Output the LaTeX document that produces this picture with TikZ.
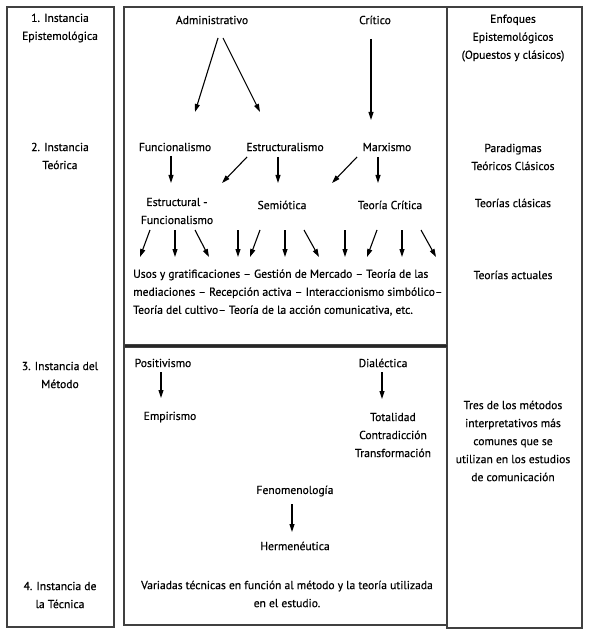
\documentclass[tikz,border=0pt]{standalone}
\usepackage{fontspec}
\setmainfont{PT Sans}[FakeBold=0.5]
\usetikzlibrary{arrows.meta}
\begin{document}
\begin{tikzpicture}[x=1pt,y=-1pt,
  txt/.style={inner sep=0pt,align=center,font=\fontsize{11.6}{18}\selectfont},
  arr/.style={line width=1.1pt,-{Triangle[length=8pt,width=5pt]}},
  frame/.style={draw=black!75,line width=1.1pt}]
\useasboundingbox (0,0) rectangle (589,636);
% frames
\draw[frame] (7,7) rectangle (114,627);
\draw[frame] (124,7) rectangle (447,345);
\draw[frame] (124,347) rectangle (447,625);
\draw[frame] (447,7) rectangle (582,628);
\draw[draw=black!85,line width=2pt] (125,345.5) -- (447,345.5);
% left column
\node[txt] (l1) at (60,28) {1. Instancia\\Epistemológica};
\node[txt] (l2) at (60,156) {2. Instancia\\Teórica};
\node[txt] (l3) at (60,375) {3. Instancia del\\Método};
\node[txt] (l4) at (60,595) {4. Instancia de\\la Técnica};
% right column
\node[txt] (r1) at (513,38) {Enfoques\\Epistemológicos\\(Opuestos y clásicos)};
\node[txt] (r2) at (513,157) {Paradigmas\\Teóricos Clásicos};
\node[txt] (r3) at (513,203) {Teorías clásicas};
\node[txt] (r4) at (513,275) {Teorías actuales};
\node[txt] (r5) at (513,441) {Tres de los métodos\\interpretativos más\\comunes que se\\utilizan en los estudios\\de comunicación};
% middle upper
\node[txt] (adm) at (212,20) {Administrativo};
\node[txt] (cri) at (375,20) {Crítico};
\node[txt] (fun) at (175,147) {Funcionalismo};
\node[txt] (est) at (285,147) {Estructuralismo};
\node[txt] (mar) at (387,147) {Marxismo};
\node[txt] (ef) at (177,211) {Estructural -\\Funcionalismo};
\node[txt] (sem) at (282,205) {Semiótica};
\node[txt] (tc) at (390,205) {Teoría Crítica};
\node[txt,align=left,anchor=west] (par) at (133,292.5) {Usos y gratificaciones -- Gestión de Mercado -- Teoría de las\\mediaciones -- Recepción activa -- Interaccionismo simbólico--\\Teoría del cultivo-- Teoría de la acción comunicativa, etc.};
% middle lower
\node[txt] (pos) at (163,363) {Positivismo};
\node[txt] (emp) at (170,417) {Empirismo};
\node[txt] (dia) at (383,363) {Dialéctica};
\node[txt] (tot) at (393,435) {Totalidad\\Contradicción\\Transformación};
\node[txt] (fen) at (295,491) {Fenomenología};
\node[txt] (her) at (295,546) {Hermenéutica};
\node[txt] (var) at (287,594) {Variadas técnicas en función al método y la teoría utilizada\\en el estudio.};
% arrow end points
\coordinate (a1s) at (218,38); \coordinate (a1e) at (195,112);
\coordinate (a2s) at (223,38); \coordinate (a2e) at (260,112);
\coordinate (a3s) at (371,39); \coordinate (a3e) at (371,120);
\coordinate (a4s) at (171,156); \coordinate (a4e) at (171,183);
\coordinate (a5s) at (247,157); \coordinate (a5e) at (222,183);
\coordinate (a6s) at (278,157); \coordinate (a6e) at (278,183);
\coordinate (a7s) at (357,157); \coordinate (a7e) at (332,183);
\coordinate (a8s) at (378,157); \coordinate (a8e) at (378,183);
\draw[arr] (a1s) -- (a1e);
\draw[arr] (a2s) -- (a2e);
\draw[arr] (a3s) -- (a3e);
\draw[arr] (a4s) -- (a4e);
\draw[arr] (a5s) -- (a5e);
\draw[arr] (a6s) -- (a6e);
\draw[arr] (a7s) -- (a7e);
\draw[arr] (a8s) -- (a8e);
\foreach \i/\xs/\xe in {1/150/140,2/175/175,3/195/209,4/238/238,5/260/250,6/285/285,7/304/319,8/345/345,9/377/367,10/402/402,11/421/436}{
  \coordinate (b\i s) at (\xs,230);
  \coordinate (b\i e) at (\xe,257);
  \draw[arr] (b\i s) -- (b\i e);
}
\coordinate (c1s) at (161,372); \coordinate (c1e) at (161,398);
\coordinate (c2s) at (382,372); \coordinate (c2e) at (382,399);
\coordinate (c3s) at (292,504); \coordinate (c3e) at (292,532);
\draw[arr] (c1s) -- (c1e);
\draw[arr] (c2s) -- (c2e);
\draw[arr] (c3s) -- (c3e);
\end{tikzpicture}
\end{document}
